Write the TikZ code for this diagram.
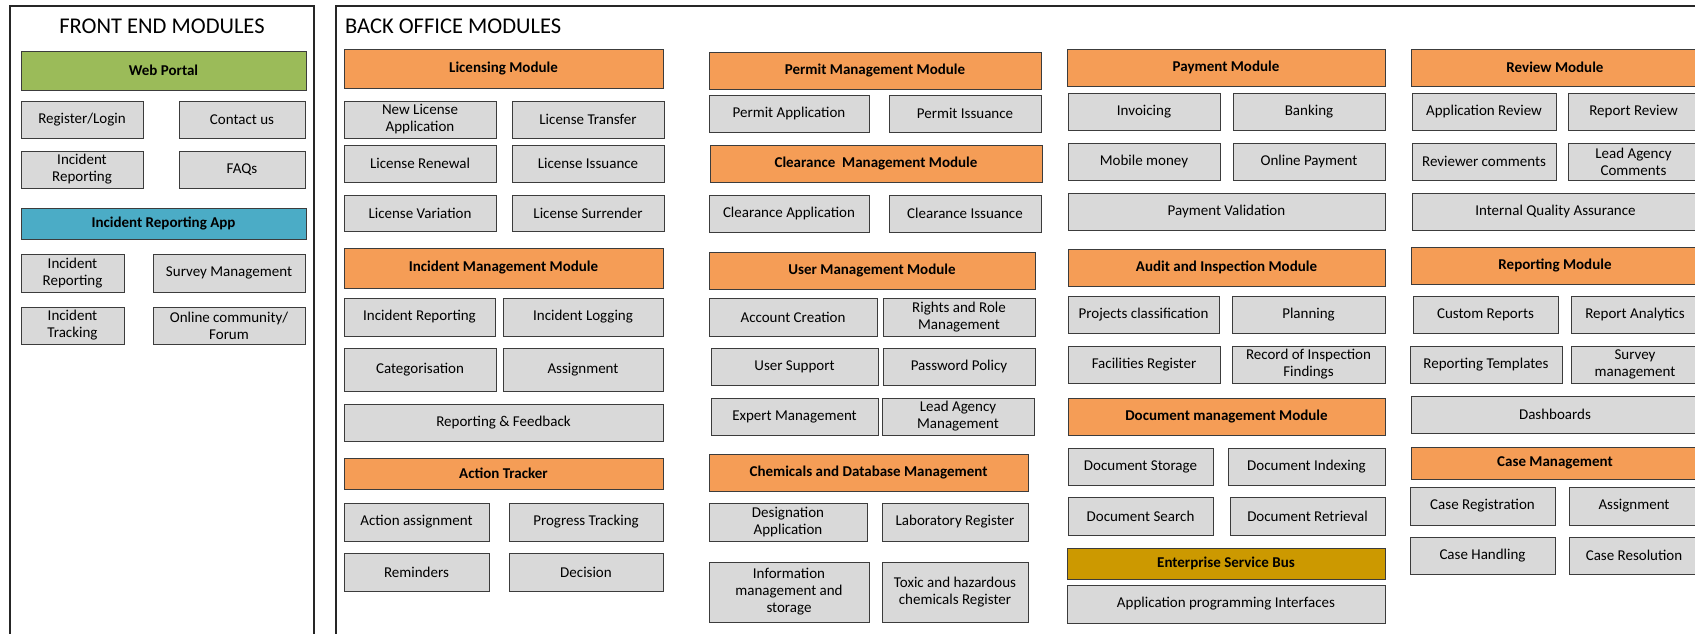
\documentclass[tikz,border=0pt]{standalone}
\usepackage{fontspec}
\setmainfont{Carlito}
\usetikzlibrary{positioning}
\definecolor{webgreen}{RGB}{155,187,89}
\definecolor{appteal}{RGB}{75,172,198}
\definecolor{modorange}{RGB}{245,157,86}
\definecolor{busgold}{RGB}{204,153,0}
\definecolor{subgray}{RGB}{217,217,217}
\definecolor{edgegray}{RGB}{60,60,60}
\tikzset{
  panel/.style={draw=black!85, line width=1.4pt},
  paneltitle/.style={font=\fontsize{22.5}{26}\selectfont, inner sep=0pt},
  blk/.style={draw=edgegray, line width=0.9pt, inner sep=2pt, outer sep=0pt,
    align=center, font=\fontsize{15}{17}\selectfont},
  sub/.style={blk, fill=subgray},
  head/.style={blk, fill=modorange, font=\bfseries\fontsize{15}{17}\selectfont},
  cell/.style n args={4}{minimum width={#3-#1}, minimum height={#4-#2},
    at={({(#1+#3)/2},{(#2+#4)/2})}},
}

\begin{document}
\begin{tikzpicture}[x=1pt, y=-1pt]
  \clip (0,0) rectangle (1695,633);
  % the two panels run on past the bottom
  \draw[panel] (10,6) rectangle (314,660);
  \draw[panel] (336,6) rectangle (1720,660);
  \node[paneltitle, anchor=base] (fetitle) at (162,33) {FRONT END MODULES};
  \node[paneltitle, anchor=base west] (botitle) at (345,33) {BACK OFFICE MODULES};

  % front end: web portal
  \node[head, fill=webgreen, cell={21}{51}{306}{90}] (web) {Web Portal};
  \node[sub, cell={21}{101}{143}{138}] (reg) {Register/Login};
  \node[sub, cell={179}{101}{305}{138}] (contact) {Contact us};
  \node[sub, cell={21}{151}{143}{188}] (webinc) {Incident\\Reporting};
  \node[sub, cell={179}{151}{305}{188}] (faq) {FAQs};
  % front end: mobile app
  \node[head, fill=appteal, cell={21}{208}{306}{239}] (app) {Incident Reporting App};
  \node[sub, cell={21}{254}{124}{292}] (appinc) {Incident\\Reporting};
  \node[sub, cell={153}{254}{305}{292}] (appsurvey) {Survey Management};
  \node[sub, cell={21}{307}{124}{344}] (apptrack) {Incident\\Tracking};
  \node[sub, cell={153}{307}{305}{344}] (forum) {Online community/\\Forum};

  % licensing
  \node[head, cell={344}{49}{663}{88}] (licmod) {Licensing Module};
  \node[sub, cell={344}{101}{496}{138}] (newlic) {New License\\Application};
  \node[sub, cell={512}{101}{664}{138}] (transfer) {License Transfer};
  \node[sub, cell={344}{145}{496}{182}] (renewal) {License Renewal};
  \node[sub, cell={512}{145}{664}{182}] (issuance) {License Issuance};
  \node[sub, cell={344}{195}{496}{231}] (variation) {License Variation};
  \node[sub, cell={512}{195}{664}{231}] (surrender) {License Surrender};
  % incidents
  \node[head, cell={344}{248}{663}{288}] (incmod) {Incident Management Module};
  \node[sub, cell={344}{298}{495}{336}] (increp) {Incident Reporting};
  \node[sub, cell={503}{298}{663}{336}] (inclog) {Incident Logging};
  \node[sub, cell={344}{348}{496}{391}] (categ) {Categorisation};
  \node[sub, cell={503}{348}{663}{391}] (incassign) {Assignment};
  \node[sub, cell={344}{404}{663}{441}] (feedback) {Reporting \& Feedback};
  % actions
  \node[head, cell={344}{458}{663}{489}] (actmod) {Action Tracker};
  \node[sub, cell={344}{503}{489}{541}] (actassign) {Action assignment};
  \node[sub, cell={509}{503}{663}{541}] (progress) {Progress Tracking};
  \node[sub, cell={344}{553}{489}{591}] (remind) {Reminders};
  \node[sub, cell={509}{553}{663}{591}] (decision) {Decision};

  % permits and clearances
  \node[head, cell={709}{52}{1041}{89}] (permod) {Permit Management Module};
  \node[sub, cell={709}{95}{869}{132}] (perapp) {Permit Application};
  \node[sub, cell={889}{95}{1041}{132}] (periss) {Permit Issuance};
  \node[head, cell={710}{145}{1042}{182}] (clrmod) {Clearance\ \ Management Module};
  \node[sub, cell={709}{195}{869}{232}] (clrapp) {Clearance Application};
  \node[sub, cell={889}{195}{1041}{232}] (clriss) {Clearance Issuance};
  % users
  \node[head, cell={709}{252}{1035}{289}] (usrmod) {User Management Module};
  \node[sub, cell={709}{298}{877}{336}] (account) {Account Creation};
  \node[sub, cell={883}{298}{1035}{336}] (rights) {Rights and Role\\Management};
  \node[sub, cell={711}{348}{878}{385}] (support) {User Support};
  \node[sub, cell={883}{348}{1035}{385}] (password) {Password Policy};
  \node[sub, cell={711}{398}{878}{435}] (expert) {Expert Management};
  \node[sub, cell={882}{398}{1034}{435}] (leadmgmt) {Lead Agency\\Management};
  % chemicals
  \node[head, cell={709}{454}{1028}{491}] (chemmod) {Chemicals and Database Management};
  \node[sub, cell={709}{503}{867}{541}] (design) {Designation\\Application};
  \node[sub, cell={882}{503}{1028}{541}] (lab) {Laboratory Register};
  \node[sub, cell={709}{562}{869}{622}] (infomgmt) {Information\\management and\\storage};
  \node[sub, cell={882}{562}{1028}{622}] (toxic) {Toxic and hazardous\\chemicals Register};

  % payments
  \node[head, cell={1067}{49}{1385}{86}] (paymod) {Payment Module};
  \node[sub, cell={1068}{93}{1220}{130}] (invoice) {Invoicing};
  \node[sub, cell={1233}{93}{1385}{130}] (banking) {Banking};
  \node[sub, cell={1068}{143}{1220}{180}] (mobile) {Mobile money};
  \node[sub, cell={1233}{143}{1385}{180}] (online) {Online Payment};
  \node[sub, cell={1068}{193}{1385}{230}] (validation) {Payment Validation};
  % audit
  \node[head, cell={1068}{249}{1385}{286}] (audmod) {Audit and Inspection Module};
  \node[sub, cell={1068}{296}{1219}{333}] (projects) {Projects classification};
  \node[sub, cell={1232}{296}{1385}{333}] (planning) {Planning};
  \node[sub, cell={1068}{346}{1220}{383}] (facilities) {Facilities Register};
  \node[sub, cell={1232}{346}{1385}{383}] (findings) {Record of Inspection\\Findings};
  % documents
  \node[head, cell={1068}{398}{1385}{435}] (docmod) {Document management Module};
  \node[sub, cell={1068}{448}{1213}{485}] (storage) {Document Storage};
  \node[sub, cell={1228}{448}{1385}{485}] (indexing) {Document Indexing};
  \node[sub, cell={1068}{497}{1213}{535}] (search) {Document Search};
  \node[sub, cell={1230}{497}{1385}{535}] (retrieval) {Document Retrieval};
  % service bus
  \node[head, fill=busgold, cell={1067}{548}{1385}{579}] (esb) {Enterprise Service Bus};
  \node[sub, cell={1067}{585}{1385}{623}] (api) {Application programming Interfaces};

  % review
  \node[head, cell={1411}{49}{1699}{86}] (revmod) {Review Module};
  \node[sub, cell={1412}{93}{1556}{130}] (apprev) {Application Review};
  \node[sub, cell={1568}{93}{1699}{130}] (reprev) {Report Review};
  \node[sub, cell={1412}{143}{1556}{180}] (revcom) {Reviewer comments};
  \node[sub, cell={1568}{143}{1699}{180}] (leadcom) {Lead Agency\\Comments};
  \node[sub, cell={1412}{193}{1699}{230}] (iqa) {Internal Quality Assurance};
  % reporting
  \node[head, cell={1411}{247}{1699}{284}] (repmod) {Reporting Module};
  \node[sub, cell={1413}{296}{1558}{333}] (custom) {Custom Reports};
  \node[sub, cell={1571}{296}{1699}{333}] (analytics) {Report Analytics};
  \node[sub, cell={1410}{346}{1562}{383}] (templates) {Reporting Templates};
  \node[sub, cell={1571}{346}{1699}{383}] (surveymgmt) {Survey\\management};
  \node[sub, cell={1411}{396}{1699}{433}] (dash) {Dashboards};
  % cases
  \node[head, cell={1411}{447}{1699}{479}] (casemod) {Case Management};
  \node[sub, cell={1410}{487}{1555}{525}] (casereg) {Case Registration};
  \node[sub, cell={1569}{487}{1699}{525}] (caseassign) {Assignment};
  \node[sub, cell={1410}{537}{1555}{574}] (handling) {Case Handling};
  \node[sub, cell={1569}{537}{1699}{574}] (resolution) {Case Resolution};
\end{tikzpicture}
\end{document}
